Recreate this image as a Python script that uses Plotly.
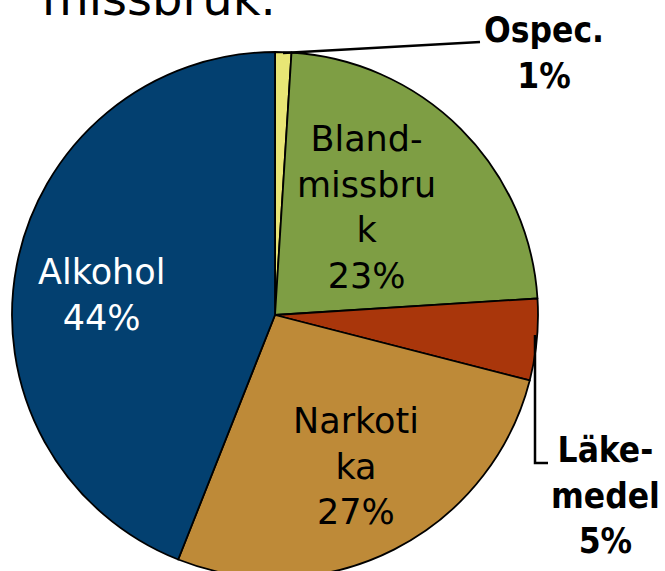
import plotly.graph_objects as go

# Data (clockwise from 12 o'clock)
categories = ["Ospec.", "Blandmissbruk", "Läkemedel", "Narkotika", "Alkohol"]
display_labels = ["<b>Ospec.</b>", "Bland-<br>missbru<br>k", "<b>Läke-<br>medel</b>", "Narkoti<br>ka", "Alkohol"]
values = [1, 23, 5, 27, 44]
colors = ["#E8E675", "#7E9E44", "#A9360B", "#BE8A38", "#034070"]
text_colors = ["#000000", "#000000", "#000000", "#000000", "#FFFFFF"]
outside = [True, False, True, False, False]
title_text = "missbruk."

W, H = 665, 578   # pie runs slightly past the bottom of the 571px window
FONT = "DejaVu Sans"
FONT_OUT = "DejaVu Sans Condensed, DejaVu Sans"

def px(x):
    return x / W

def py(y):
    return 1 - y / H

# pie geometry (pixels)
cx, cy, r = 275, 315, 263

fig = go.Figure(go.Pie(
    labels=categories,
    values=values,
    sort=False,
    direction="clockwise",
    rotation=0,
    marker=dict(colors=colors, line=dict(color="#000000", width=1.8)),
    textinfo="none",
    hoverinfo="label+percent",
    showlegend=False,
    domain=dict(x=[px(cx - r), px(cx + r)], y=[py(cy + r), py(cy - r)]),
))

# label placements (pixels): center x, center y
label_pos = [(544, 53), (366, 208), (605, 495), (356, 466), (101, 295)]

total = sum(values)
annotations = []
for lab, v, col, o, (lx, ly) in zip(display_labels, values, text_colors, outside, label_pos):
    pct = f"{round(100 * v / total)}%"
    if o:
        pct = f"<b>{pct}</b>"
    annotations.append(dict(
        x=px(lx), y=py(ly), xref="paper", yref="paper",
        xanchor="center", yanchor="middle",
        text=f"{lab}<br>{pct}", showarrow=False,
        font=dict(family=FONT_OUT if o else FONT, size=35, color=col),
        align="center",
    ))

# title (partially cut off at top)
annotations.append(dict(
    x=px(40), y=py(28), xref="paper", yref="paper",
    xanchor="left", yanchor="bottom",
    text=title_text, showarrow=False,
    font=dict(family=FONT, size=48, color="#000000"),
))

shapes = [
    # leader line for Ospec.
    dict(type="line", xref="paper", yref="paper",
         x0=px(283), y0=py(53), x1=px(480), y1=py(42),
         line=dict(color="#000000", width=2.5)),
    # leader line for Läkemedel
    dict(type="path", xref="paper", yref="paper",
         path=f"M {px(535)} {py(335)} L {px(535)} {py(463)} L {px(548)} {py(463)}",
         line=dict(color="#000000", width=2.5)),
]

fig.update_layout(
    width=W, height=H,
    margin=dict(l=0, r=0, t=0, b=0),
    paper_bgcolor="#FFFFFF",
    plot_bgcolor="#FFFFFF",
    annotations=annotations,
    shapes=shapes,
    font=dict(family=FONT),
)

fig.write_html("out.html", config={"displayModeBar": False},
               post_script="document.body.style.margin='0px';")
